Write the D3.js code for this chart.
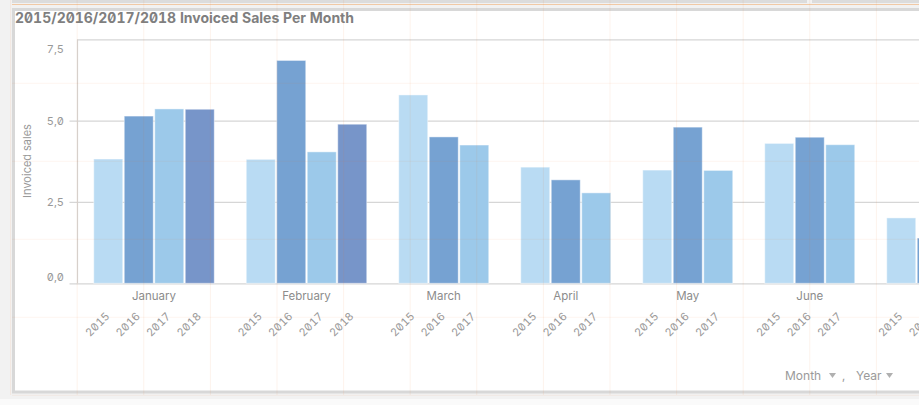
<!DOCTYPE html>
<html>
<head>
<meta charset="utf-8">
<script src="https://cdn.jsdelivr.net/npm/d3@7"></script>
<style>
  html, body { margin: 0; padding: 0; background: #f2f2f2; }
  svg { display: block; }
  text { font-family: Inter, "Open Sans", sans-serif; font-feature-settings: "zero" 1, "tnum" 1; }
</style>
</head>
<body>
<svg id="chart" width="919" height="405"></svg>
<script>
// ---------------- data ----------------
const months = ["January", "February", "March", "April", "May", "June", "July"];
const years = ["2015", "2016", "2017", "2018"];
// which years exist (as category slots) for each month
const monthYears = [
  ["2015", "2016", "2017", "2018"],
  ["2015", "2016", "2017", "2018"],
  ["2015", "2016", "2017"],
  ["2015", "2016", "2017"],
  ["2015", "2016", "2017"],
  ["2015", "2016", "2017"],
  ["2015", "2016", "2017"]
];
// Invoiced sales per month (null = not visible / no value)
const sales2015 = [3.82, 3.81, 5.79, 3.57, 3.48, 4.30, 2.01];
const sales2016 = [5.14, 6.85, 4.50, 3.18, 4.80, 4.49, 1.39];
const sales2017 = [5.36, 4.04, 4.25, 2.78, 3.47, 4.26, null];
const sales2018 = [5.35, 4.89, null, null, null, null, null];
const yTicks = [0, 2.5, 5, 7.5];
const yTickLabels = ["0,0", "2,5", "5,0", "7,5"];
const titleText = "2015/2016/2017/2018 Invoiced Sales Per Month";
const yTitle = "Invoiced sales";
const colorByYear = { "2015": "#b9dbf3", "2016": "#76a2d2", "2017": "#9cc9ea", "2018": "#7795c9" };

// ---------------- layout ----------------
const W = 919, H = 405;
const plotLeft = 77.5, plotTop = 39.3, plotBottom = 283.3, plotRight = 935;
const slot = 30.5, firstSlot = 93.0;

const svg = d3.select("#chart");

// page background pieces
svg.append("rect").attr("x", 0).attr("y", 0).attr("width", W).attr("height", H).attr("fill", "#f2f2f2");
svg.append("rect").attr("x", 0).attr("y", 399).attr("width", W).attr("height", 6).attr("fill", "#fafafa");
// top strip from panel above
svg.append("rect").attr("x", 12).attr("y", 0).attr("width", 795).attr("height", 3).attr("fill", "#dcdcdc");
svg.append("rect").attr("x", 812).attr("y", 0).attr("width", 120).attr("height", 3).attr("fill", "#dcdcdc");
// panel
svg.append("rect").attr("x", 13.5).attr("y", 9.5).attr("width", 930).attr("height", 382.5)
  .attr("fill", "#ffffff").attr("stroke", "#d8d8d8").attr("stroke-width", 3);

// title
svg.append("text").attr("x", 15).attr("y", 23).text(titleText)
  .attr("font-size", 14).attr("font-weight", 700).attr("fill", "#7f7f7f");

// scales
const keys = [];
months.forEach((m, i) => {
  monthYears[i].forEach(yr => keys.push(m + "|" + yr));
  keys.push(m + "|gap");
});
const x = d3.scaleBand().domain(keys).range([firstSlot, firstSlot + slot * keys.length]).padding(0);
const y = d3.scaleLinear().domain([0, 7.5]).range([plotBottom, plotTop]);

const seriesByYear = { "2015": sales2015, "2016": sales2016, "2017": sales2017, "2018": sales2018 };
const rows = [];
months.forEach((m, i) => {
  monthYears[i].forEach(yr => {
    rows.push({ month: m, year: yr, key: m + "|" + yr, value: seriesByYear[yr][i] });
  });
});

// clip for plot
svg.append("clipPath").attr("id", "plotclip").append("rect")
  .attr("x", plotLeft).attr("y", 0).attr("width", W - plotLeft).attr("height", H);

// y axis with gridlines
const yAxis = d3.axisLeft(y).tickValues(yTicks)
  .tickFormat(d => yTickLabels[yTicks.indexOf(d)])
  .tickSizeOuter(0);
const gy = svg.append("g").attr("transform", `translate(${plotLeft},0)`).call(yAxis);
gy.select(".domain").remove();
gy.selectAll(".tick line")
  .attr("x1", d => d === 7.5 ? 0 : -8)
  .attr("x2", plotRight - plotLeft)
  .attr("stroke", "#d6d6d6").attr("stroke-width", 1.2);
gy.selectAll(".tick text")
  .attr("x", -13.5)
  .attr("dy", null)
  .attr("font-size", 11).attr("fill", "#999")
  .attr("font-family", null)
  .attr("dominant-baseline", "central")
  .attr("y", d => {
    const p = y(d);
    return Math.min(Math.max(p, plotTop + 9), plotBottom - 7) - p;
  });
// vertical axis line
svg.append("line").attr("x1", plotLeft).attr("x2", plotLeft).attr("y1", plotTop).attr("y2", plotBottom)
  .attr("stroke", "#d6d6d6").attr("stroke-width", 1.2);

// y title
svg.append("text").attr("transform", `translate(31,161) rotate(-90)`)
  .attr("text-anchor", "middle").attr("font-size", 11).attr("fill", "#999").text(yTitle);

// bars
const gb = svg.append("g").attr("clip-path", "url(#plotclip)");
gb.selectAll("rect.bar").data(rows.filter(r => r.value != null)).join("rect")
  .attr("class", "bar")
  .attr("x", d => x(d.key) + 0.75)
  .attr("width", x.bandwidth() - 1.5)
  .attr("y", d => y(d.value))
  .attr("height", d => y(0) - y(d.value))
  .attr("fill", d => colorByYear[d.year])
  .attr("stroke", "rgba(255,255,255,0.45)").attr("stroke-width", 1);

// month labels (only those whose group centre lies inside the visible window)
const gm = svg.append("g");
months.forEach((m, i) => {
  const ks = monthYears[i].map(yr => m + "|" + yr);
  const cx = (x(ks[0]) + x(ks[ks.length - 1]) + x.bandwidth()) / 2;
  if (cx + 20 > W) return;
  gm.append("text").attr("x", cx).attr("y", 299.5).attr("text-anchor", "middle")
    .attr("font-size", 11.5).attr("fill", "#8c8c8c").text(m);
});

// year labels (skip those that lie completely beyond the window)
svg.append("g").selectAll("text")
  .data(rows.filter(r => x(r.key) + x.bandwidth() / 2 - 24 < W)).join("text")
  .attr("transform", d => `translate(${x(d.key) + x.bandwidth() / 2 + 2},317) rotate(-45)`)
  .attr("text-anchor", "end").attr("font-size", 11).attr("fill", "#999")
  .text(d => d.year);

// legend / dimension selectors
const lg = svg.append("g");
lg.append("text").attr("x", 785).attr("y", 379.5).attr("font-size", 12).attr("fill", "#9a9a9a").text("Month");
lg.append("path").attr("d", "M829,373 L836,373 L832.5,378 Z").attr("fill", "#b0b0b0");
lg.append("text").attr("x", 842).attr("y", 379.5).attr("font-size", 12).attr("fill", "#9a9a9a").text(",");
lg.append("text").attr("x", 856).attr("y", 379.5).attr("font-size", 12).attr("fill", "#9a9a9a").text("Year");
lg.append("path").attr("d", "M886,373 L893,373 L889.5,378 Z").attr("fill", "#b0b0b0");

// design grid overlay (faint orange)
const og = svg.append("g").attr("pointer-events", "none");
og.selectAll("line.v").data(d3.range(10.6, W, 66.6)).join("line")
  .attr("x1", d => d).attr("x2", d => d).attr("y1", 0).attr("y2", 395)
  .attr("stroke", "rgba(235,120,40,0.09)").attr("stroke-width", 1);
og.selectAll("line.h").data(d3.range(83.3, 400, 78)).join("line")
  .attr("x1", 12).attr("x2", W).attr("y1", d => d).attr("y2", d => d)
  .attr("stroke", "rgba(235,120,40,0.07)").attr("stroke-width", 1);
og.append("line").attr("x1", 12).attr("x2", W).attr("y1", 4.5).attr("y2", 4.5)
  .attr("stroke", "rgba(240,150,70,0.45)").attr("stroke-width", 1);
</script>
</body>
</html>
